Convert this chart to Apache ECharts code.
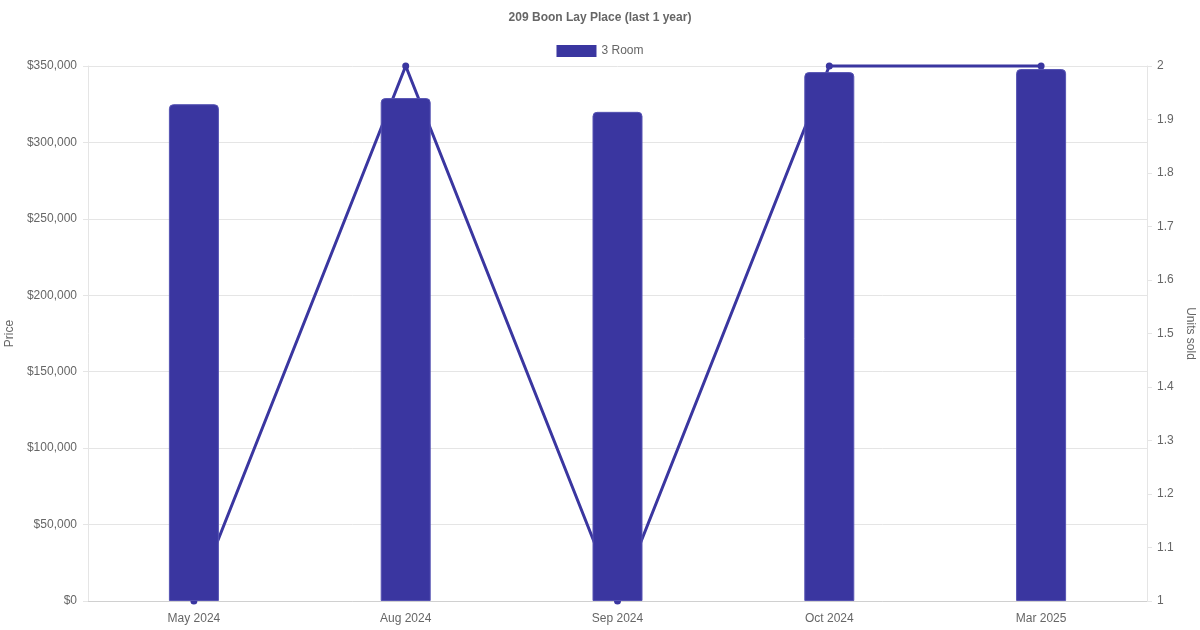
<!DOCTYPE html>
<html>
<head>
<meta charset="utf-8">
<script src="https://cdn.jsdelivr.net/npm/echarts@6/dist/echarts.min.js"></script>
<style>
html,body{margin:0;padding:0;background:#fff;}
#c{width:1200px;height:630px;}
</style>
</head>
<body>
<div id="c"></div>
<script>
const categories = ["May 2024", "Aug 2024", "Sep 2024", "Oct 2024", "Mar 2025"];
const prices = [325000, 329000, 320000, 346000, 348000];
const unitsSold = [1, 2, 1, 2, 2];
const seriesName = "3 Room";
const titleText = "209 Boon Lay Place (last 1 year)";

const FONT = "Liberation Sans, Arial, sans-serif";
const TXT = "#666";
const GRID = "#e5e5e5";
const BAR = "#3a36a0";

const chart = echarts.init(document.getElementById('c'));
chart.setOption({
  animation: false,
  textStyle: {fontFamily: FONT},
  title: {
    text: titleText, left: 'center', top: 7,
    textStyle: {fontSize: 12, fontWeight: 'bold', color: TXT, fontFamily: FONT}
  },
  legend: {
    data: [{name: seriesName, icon: 'rect', itemStyle: {color: BAR, borderWidth: 0}}],
    top: 40, left: 'center',
    itemWidth: 40, itemHeight: 12, itemGap: 10,
    textStyle: {fontSize: 12, color: TXT, fontFamily: FONT}
  },
  grid: {left: 88, right: 53, top: 66, bottom: 29, containLabel: false, outerBoundsMode: 'none'},
  xAxis: {
    type: 'category', data: categories,
    axisLine: {show: true, lineStyle: {color: '#d0d0d0'}},
    axisTick: {show: false},
    splitLine: {show: false},
    axisLabel: {color: TXT, fontSize: 12, margin: 12, fontFamily: FONT}
  },
  yAxis: [{
    type: 'value', min: 0, max: 350000, interval: 50000,
    name: 'Price', nameLocation: 'middle', nameGap: 67, nameRotate: 90,
    nameTextStyle: {color: TXT, fontSize: 12, fontFamily: FONT},
    axisLine: {show: true, lineStyle: {color: GRID}},
    axisTick: {show: true, length: 5, lineStyle: {color: GRID}},
    splitLine: {show: true, lineStyle: {color: GRID}},
    axisLabel: {color: TXT, fontSize: 12, margin: 11, fontFamily: FONT,
      formatter: v => '$' + v.toLocaleString('en-US')}
  }, {
    type: 'value', min: 1, max: 2, interval: 0.1, position: 'right',
    name: 'Units sold', nameLocation: 'middle', nameGap: 34, nameRotate: -90,
    nameTextStyle: {color: TXT, fontSize: 12, fontFamily: FONT},
    axisLine: {show: true, lineStyle: {color: GRID}},
    axisTick: {show: true, length: 5, lineStyle: {color: GRID}},
    splitLine: {show: false},
    axisLabel: {color: TXT, fontSize: 12, margin: 10, fontFamily: FONT,
      formatter: v => String(Math.round(v * 10) / 10)}
  }],
  series: [{
    name: seriesName, type: 'bar', yAxisIndex: 0, data: prices,
    barWidth: 50, z: 3,
    itemStyle: {color: BAR, borderColor: '#5653b3', borderWidth: 1, borderRadius: [4, 4, 0, 0]}
  }, {
    name: 'Units', type: 'line', yAxisIndex: 1, data: unitsSold,
    z: 2, symbol: 'circle', symbolSize: 7, showSymbol: true,
    lineStyle: {color: BAR, width: 3},
    itemStyle: {color: BAR},
    clip: false
  }]
});
</script>
</body>
</html>
